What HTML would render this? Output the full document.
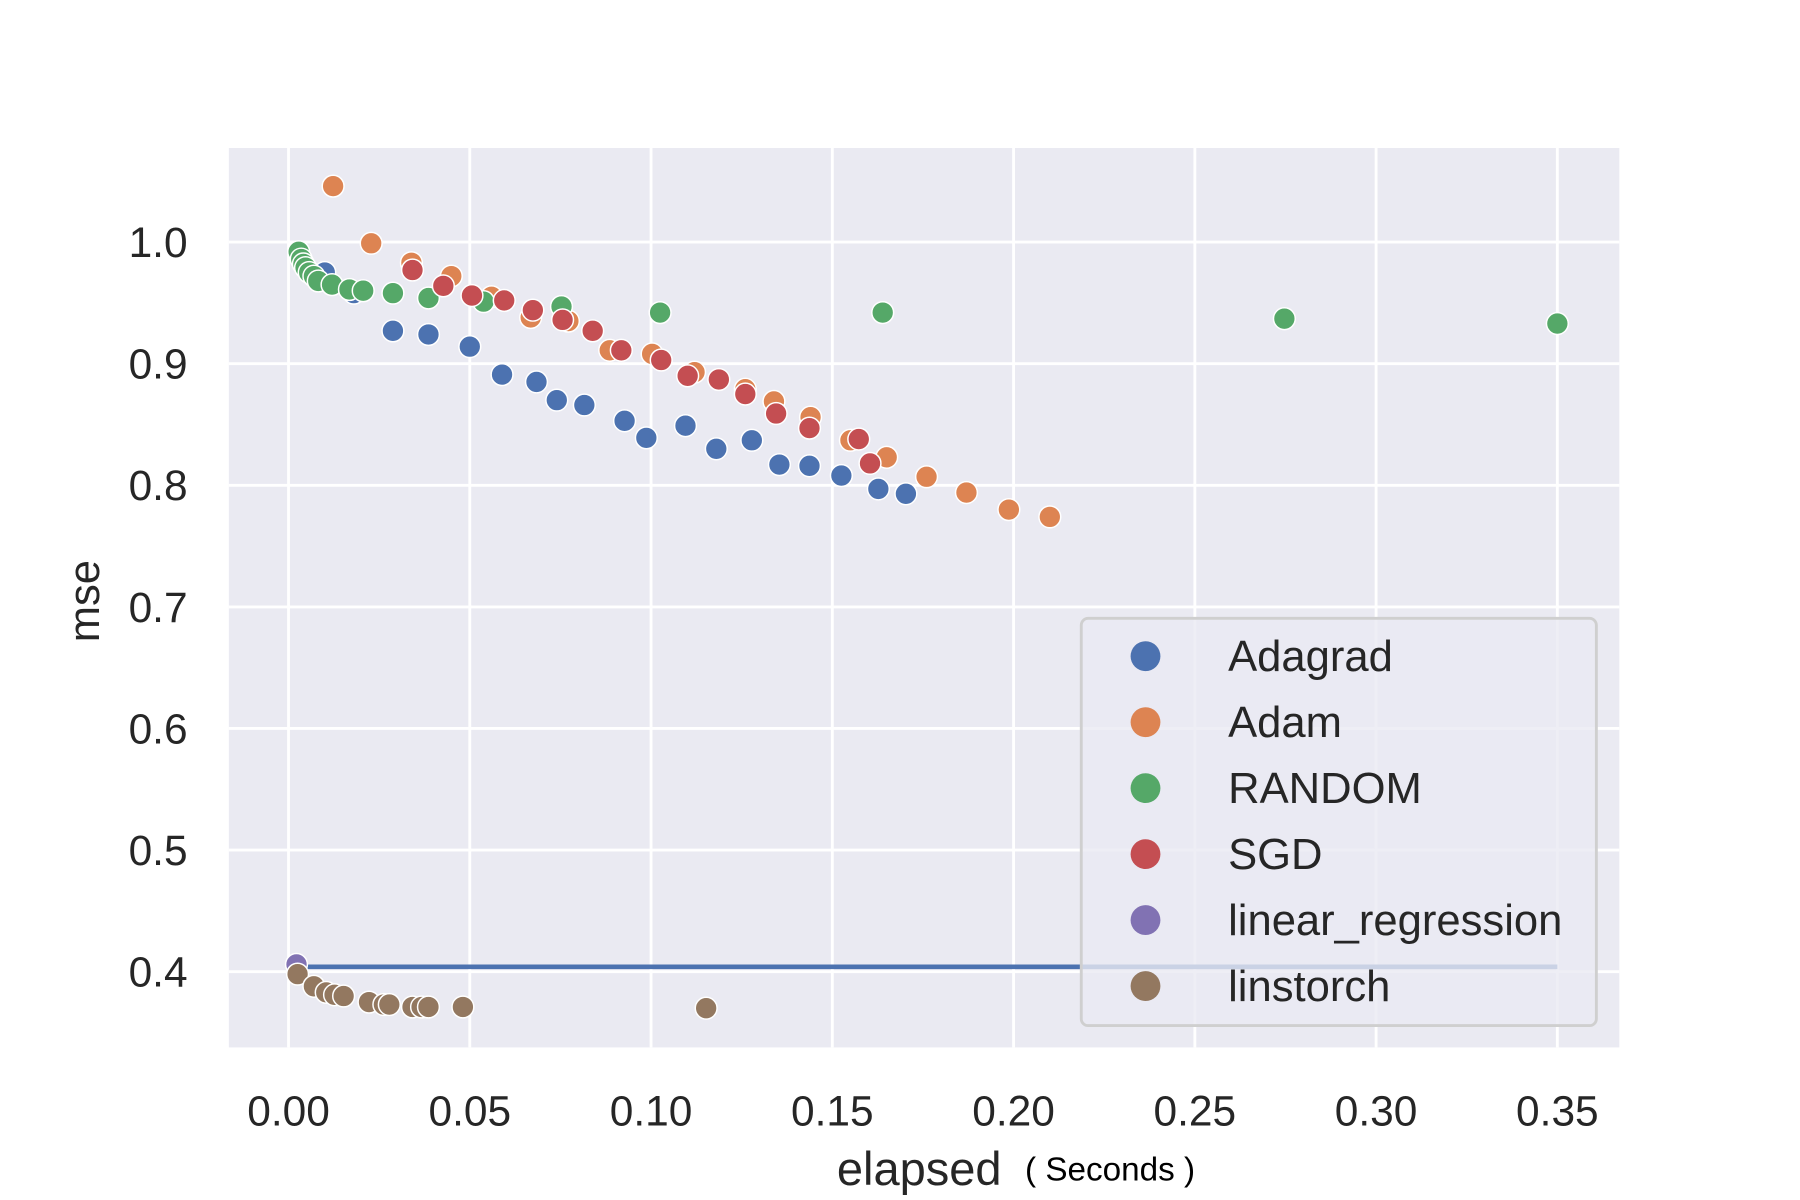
<!DOCTYPE html>
<html><head><meta charset="utf-8"><style>
html,body{margin:0;padding:0;background:#fff;}
svg{display:block;font-family:"Liberation Sans",Arial,sans-serif;}
</style></head><body>
<svg id="chart" width="1800" height="1200" viewBox="-1.5 -1 1569 1046" xmlns="http://www.w3.org/2000/svg">
<rect x="198" y="128" width="1212" height="784" fill="#eaeaf2"/>
<g id="grid"></g>
<g id="marks"></g>
<g id="legend"></g>
<g id="labels"></g>
</svg>
<script>
const xTicks = [0, 0.05, 0.10, 0.15, 0.20, 0.25, 0.30, 0.35];
const xTickLabels = ["0.00","0.05","0.10","0.15","0.20","0.25","0.30","0.35"];
const yTicks = [0.4, 0.5, 0.6, 0.7, 0.8, 0.9, 1.0];
const yTickLabels = ["0.4","0.5","0.6","0.7","0.8","0.9","1.0"];
const seriesNames = ["Adagrad","Adam","RANDOM","SGD","linear_regression","linstorch"];
const seriesColors = ["#4c72b0","#dd8452","#55a868","#c44e52","#8172b3","#937860"];

const adagradX = [0.010,0.018,0.0288,0.0386,0.050,0.0589,0.0684,0.074,0.0816,0.0927,0.0987,0.1095,0.118,0.1278,0.1354,0.1437,0.1525,0.1627,0.1703];
const adagradY = [0.975,0.958,0.927,0.924,0.914,0.891,0.885,0.870,0.866,0.853,0.839,0.849,0.830,0.837,0.817,0.816,0.808,0.797,0.793];
const adamX = [0.0123,0.0228,0.0339,0.0449,0.056,0.0668,0.0772,0.0886,0.1003,0.112,0.126,0.1339,0.144,0.155,0.165,0.176,0.187,0.1987,0.210];
const adamY = [1.046,0.999,0.983,0.972,0.955,0.938,0.935,0.911,0.908,0.893,0.879,0.869,0.856,0.837,0.823,0.807,0.794,0.780,0.774];
const randomX = [0.0028,0.0035,0.0041,0.0047,0.0057,0.007,0.0082,0.012,0.0168,0.0206,0.0288,0.0386,0.0538,0.0753,0.1025,0.1639,0.2747,0.35];
const randomY = [0.992,0.986,0.982,0.979,0.975,0.972,0.968,0.965,0.961,0.960,0.958,0.954,0.951,0.947,0.942,0.942,0.937,0.933];
const sgdX = [0.0342,0.0427,0.0506,0.0595,0.0674,0.0756,0.0839,0.0918,0.1028,0.1101,0.1187,0.126,0.1345,0.1437,0.1573,0.1604];
const sgdY = [0.977,0.964,0.956,0.952,0.944,0.936,0.927,0.911,0.903,0.890,0.887,0.875,0.859,0.847,0.838,0.818];
const linregX = [0.0022];
const linregY = [0.406];
const linstorchX = [0.0025,0.007,0.0104,0.0127,0.0152,0.0222,0.0263,0.0278,0.0342,0.0367,0.0386,0.0481,0.1152];
const linstorchY = [0.398,0.388,0.383,0.381,0.380,0.375,0.373,0.373,0.371,0.371,0.371,0.371,0.370];
const refLineX = [0, 0.35];
const refLineY = [0.404, 0.404];

const NS = "http://www.w3.org/2000/svg";
function xs(v){ return 250 + v * 3160; }
function ys(v){ return 210 + (1 - v) * 1060; }
function mk(tag, attrs, parent){ const e=document.createElementNS(NS,tag); for(const k in attrs) e.setAttribute(k,attrs[k]); parent.appendChild(e); return e; }

const grid = document.getElementById('grid');
const labels = document.getElementById('labels');
xTicks.forEach((t,i)=>{
  const l = mk('line',{x1:xs(t),x2:xs(t),y1:128,y2:912,stroke:'#fff','stroke-width':2.5},grid);
  
  
  const tx = mk('text',{x:xs(t),y:980,'text-anchor':'middle','font-size':37,fill:'#262626'},labels);
  tx.textContent = xTickLabels[i];
  
  
});
yTicks.forEach((t,i)=>{
  const l = mk('line',{x1:198,x2:1410,y1:ys(t),y2:ys(t),stroke:'#fff','stroke-width':2.5},grid);
  
  
  const tx = mk('text',{x:162,y:ys(t)+13,'text-anchor':'end','font-size':37,fill:'#262626'},labels);
  tx.textContent = yTickLabels[i];
  
  
});

const marks = document.getElementById('marks');
const allX = [adagradX, adamX, randomX, sgdX, linregX, linstorchX];
const allY = [adagradY, adamY, randomY, sgdY, linregY, linstorchY];
const line = mk('line',{x1:xs(refLineX[0]),x2:xs(refLineX[1]),y1:ys(refLineY[0]),y2:ys(refLineY[1]),stroke:'#4c72b0','stroke-width':4},marks);


allX.forEach((xa,si)=>{
  xa.forEach((xv,j)=>{
    const c = mk('circle',{cx:xs(xv),cy:ys(allY[si][j]),r:9.5,fill:seriesColors[si],stroke:'#fff','stroke-width':1.3},marks);
    
    
  });
});

const legend = document.getElementById('legend');
const box = mk('rect',{x:941,y:538,width:449,height:355,rx:6,fill:'rgba(234,234,242,0.8)',stroke:'#cfcfcf','stroke-width':2.5},legend);


seriesNames.forEach((n,i)=>{
  const y = 571 + i*57.5;
  const c = mk('circle',{cx:997,cy:y,r:13,fill:seriesColors[i]},legend);
  
  
  const t = mk('text',{x:1069,y:y+13,'font-size':38,fill:'#262626'},legend);
  t.textContent = n;
  
  
});

const yl = mk('text',{x:0,y:0,'font-size':38,fill:'#262626','text-anchor':'middle',transform:'translate(85,523) rotate(-90)'},labels);
yl.textContent = 'mse';


const xl = mk('text',{x:728,y:1032,'font-size':41,fill:'#262626'},labels);
xl.textContent = 'elapsed';


const xu = mk('text',{x:892,y:1028,'font-size':29,fill:'#000'},labels);
xu.textContent = '( Seconds )';


</script>
</body></html>
